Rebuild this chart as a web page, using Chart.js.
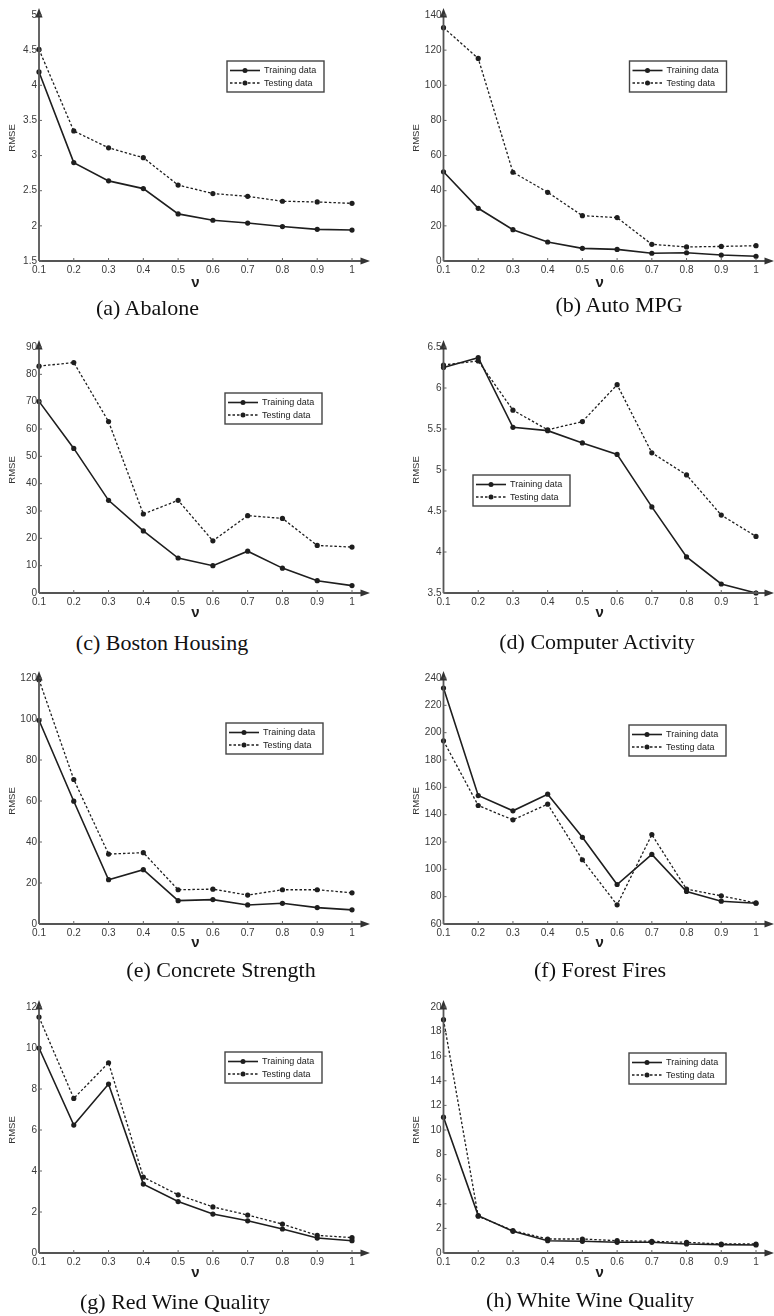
<!DOCTYPE html>
<html><head><meta charset="utf-8">
<script src="https://cdn.jsdelivr.net/npm/chart.js@4.4.0/dist/chart.umd.min.js"></script>
<style>
html,body{margin:0;padding:0;background:#fff}
body{width:774px;height:1316px;position:relative;overflow:hidden}
canvas{position:absolute}
.cap{position:absolute;font-family:"Liberation Serif","Times New Roman",serif;font-size:22px;color:#111;white-space:nowrap;transform:translate(-50%,-50%);line-height:1}
</style></head><body>
<script>
// ---------- data ----------
const nuLabels = ['0.1','0.2','0.3','0.4','0.5','0.6','0.7','0.8','0.9','1'];
const seriesNames = ['Training data','Testing data'];
const captions = ['(a) Abalone','(b) Auto MPG','(c) Boston Housing','(d) Computer Activity',
                  '(e) Concrete Strength','(f) Forest Fires','(g) Red Wine Quality','(h) White Wine Quality'];

const abaloneTrain  = [4.19, 2.90, 2.64, 2.53, 2.17, 2.08, 2.04, 1.99, 1.95, 1.94];
const abaloneTest   = [4.51, 3.35, 3.11, 2.97, 2.58, 2.46, 2.42, 2.35, 2.34, 2.32];
const autoMpgTrain  = [50.8, 30.0, 17.8, 10.8, 7.2, 6.6, 4.4, 4.7, 3.4, 2.7];
const autoMpgTest   = [132.8, 115.3, 50.5, 39.1, 25.8, 24.7, 9.5, 8.0, 8.3, 8.7];
const bostonTrain   = [70.1, 52.9, 33.9, 22.7, 12.8, 10.0, 15.3, 9.1, 4.5, 2.7];
const bostonTest    = [83.0, 84.3, 62.7, 28.9, 33.9, 19.1, 28.3, 27.3, 17.4, 16.8];
const computerTrain = [6.25, 6.37, 5.52, 5.48, 5.33, 5.19, 4.55, 3.94, 3.61, 3.50];
const computerTest  = [6.28, 6.33, 5.73, 5.49, 5.59, 6.04, 5.21, 4.94, 4.45, 4.19];
const concreteTrain = [99.4, 59.9, 21.6, 26.5, 11.4, 11.9, 9.3, 10.1, 8.0, 6.9];
const concreteTest  = [119.2, 70.5, 34.1, 34.8, 16.7, 17.0, 14.1, 16.7, 16.7, 15.2];
const forestTrain   = [232.7, 154.0, 142.8, 155.0, 123.4, 88.9, 110.9, 83.8, 76.7, 75.2];
const forestTest    = [194.0, 146.7, 136.2, 147.7, 107.0, 74.0, 125.4, 85.5, 80.6, 75.4];
const redWineTrain  = [10.0, 6.24, 8.24, 3.36, 2.51, 1.90, 1.57, 1.17, 0.73, 0.60];
const redWineTest   = [11.51, 7.54, 9.28, 3.70, 2.84, 2.25, 1.85, 1.41, 0.86, 0.75];
const whiteWineTrain= [11.04, 3.04, 1.76, 1.00, 0.95, 0.87, 0.87, 0.73, 0.68, 0.65];
const whiteWineTest = [18.97, 2.99, 1.82, 1.14, 1.14, 1.00, 0.95, 0.87, 0.73, 0.73];

const yMin  = [1.5, 0, 0, 3.5, 0, 60, 0, 0];
const yMax  = [5, 140, 90, 6.5, 120, 240, 12, 20];
const yStep = [0.5, 20, 10, 0.5, 20, 20, 2, 2];

const trainSets = [abaloneTrain, autoMpgTrain, bostonTrain, computerTrain, concreteTrain, forestTrain, redWineTrain, whiteWineTrain];
const testSets  = [abaloneTest, autoMpgTest, bostonTest, computerTest, concreteTest, forestTest, redWineTest, whiteWineTest];

// ---------- layout ----------
const ROW_TOP = [0, 330, 660, 990];
const AREA_TOP = [15, 17, 18, 17];
const AREA_H = 246;
const CANVAS_W = 387, CANVAS_H = 300;
const COL_LEFT = [0, 387];
const PAD_LEFT = [0, 17.5];
const PAD_RIGHT = [35, 18];
const Y_W = 39;
const legendPos = [[188,46],[186,46],[186,46],[29.5,128],[187,45],[185.5,47],[186,45],[185.5,46]];
const capPos = [[147.5,308],[619,305],[162,643],[597,642],[221,970],[600,970],[175,1302],[590,1300]];

const INK = '#1e1e1e';
const AXIS = '#555';
Chart.defaults.font.family = '"Liberation Sans", Arial, sans-serif';

const decor = {
  id: 'decor',
  afterDraw(chart, args, opts) {
    const ctx = chart.ctx, a = chart.chartArea;
    const xs = chart.scales.x, ys = chart.scales.y;
    ctx.save();
    ctx.strokeStyle = AXIS; ctx.fillStyle = AXIS;
    ctx.lineWidth = 1.8;
    ctx.beginPath();
    ctx.moveTo(a.left, a.bottom); ctx.lineTo(a.left, a.top - 1);
    ctx.moveTo(a.left, a.bottom); ctx.lineTo(a.right + 11, a.bottom);
    ctx.stroke();
    ctx.fillStyle = '#333';
    ctx.beginPath();
    ctx.moveTo(a.left, a.top - 7); ctx.lineTo(a.left - 3.6, a.top + 2.5); ctx.lineTo(a.left + 3.6, a.top + 2.5);
    ctx.closePath(); ctx.fill();
    ctx.beginPath();
    ctx.moveTo(a.right + 18, a.bottom); ctx.lineTo(a.right + 8.5, a.bottom - 3.6); ctx.lineTo(a.right + 8.5, a.bottom + 3.6);
    ctx.closePath(); ctx.fill();
    ctx.strokeStyle = '#666';
    ctx.lineWidth = 1;
    ys.ticks.forEach((t, i) => {
      const y = ys.getPixelForTick(i);
      ctx.beginPath(); ctx.moveTo(a.left, y); ctx.lineTo(a.left + 3, y); ctx.stroke();
    });
    xs.ticks.forEach((t, i) => {
      const x = xs.getPixelForTick(i);
      ctx.beginPath(); ctx.moveTo(x, a.bottom); ctx.lineTo(x, a.bottom - 3); ctx.stroke();
    });
    // legend box
    const L = opts.pos;
    const bx = a.left + L[0], by = a.top + L[1], bw = 97, bh = 31;
    ctx.fillStyle = '#fff'; ctx.fillRect(bx, by, bw, bh);
    ctx.strokeStyle = '#444'; ctx.lineWidth = 1.4; ctx.strokeRect(bx, by, bw, bh);
    chart.data.datasets.forEach((ds, i) => {
      const y = by + (i === 0 ? 9.5 : 22);
      ctx.strokeStyle = ds.borderColor; ctx.lineWidth = ds.borderWidth;
      ctx.setLineDash(ds.borderDash || []);
      ctx.beginPath(); ctx.moveTo(bx + 3, y); ctx.lineTo(bx + 33, y); ctx.stroke();
      ctx.setLineDash([]);
      ctx.fillStyle = ds.pointBackgroundColor;
      ctx.beginPath(); ctx.arc(bx + 18, y, 2.5, 0, Math.PI * 2); ctx.fill();
      ctx.fillStyle = '#222';
      ctx.font = '9px "Liberation Sans", Arial, sans-serif';
      ctx.textBaseline = 'middle'; ctx.textAlign = 'left';
      ctx.fillText(ds.label, bx + 37, y + 0.5);
    });
    ctx.restore();
  }
};

for (let i = 0; i < 8; i++) {
  const row = Math.floor(i / 2), col = i % 2;
  const cv = document.createElement('canvas');
  cv.width = CANVAS_W; cv.height = CANVAS_H;
  cv.style.left = COL_LEFT[col] + 'px'; cv.style.top = ROW_TOP[row] + 'px';
  document.body.appendChild(cv);

  const cap = document.createElement('div');
  cap.className = 'cap'; cap.textContent = captions[i];
  cap.style.left = capPos[i][0] + 'px'; cap.style.top = capPos[i][1] + 'px';
  document.body.appendChild(cap);

  new Chart(cv, {
    type: 'line',
    data: {
      labels: nuLabels,
      datasets: [
        { label: seriesNames[0], data: trainSets[i], borderColor: INK, borderWidth: 1.6,
          pointRadius: 2.6, pointBackgroundColor: INK, pointBorderWidth: 0, tension: 0, clip: false },
        { label: seriesNames[1], data: testSets[i], borderColor: INK, borderWidth: 1.3, borderDash: [2.5, 2],
          pointRadius: 2.6, pointBackgroundColor: INK, pointBorderWidth: 0, tension: 0, clip: false }
      ]
    },
    options: {
      responsive: false, animation: false, events: [],
      layout: { padding: { left: PAD_LEFT[col], right: PAD_RIGHT[col], top: AREA_TOP[row], bottom: 0 } },
      plugins: { legend: { display: false }, tooltip: { enabled: false }, decor: { pos: legendPos[i] } },
      scales: {
        x: {
          type: 'category', offset: false,
          grid: { display: false, drawTicks: false }, border: { display: false },
          ticks: { color: '#3a3a3a', font: { size: 10 }, padding: 3, maxRotation: 0, autoSkip: false },
          title: { display: true, text: 'ν', color: INK, font: { size: 15, weight: 'bold' }, padding: { top: 0, bottom: 8 } },
          afterFit: s => { s.height = CANVAS_H - AREA_TOP[row] - AREA_H; }
        },
        y: {
          type: 'linear', min: yMin[i], max: yMax[i],
          grid: { display: false, drawTicks: false }, border: { display: false },
          ticks: { stepSize: yStep[i], color: '#3a3a3a', font: { size: 10 }, padding: 2,
                   callback: v => String(Math.round(v * 1000) / 1000) },
          title: { display: true, text: 'RMSE', color: '#333', font: { size: 9.5 }, padding: { top: 6.3, bottom: 0 } },
          afterFit: s => { s.width = Y_W; }
        }
      }
    },
    plugins: [decor]
  });
}
</script>
</body></html>
